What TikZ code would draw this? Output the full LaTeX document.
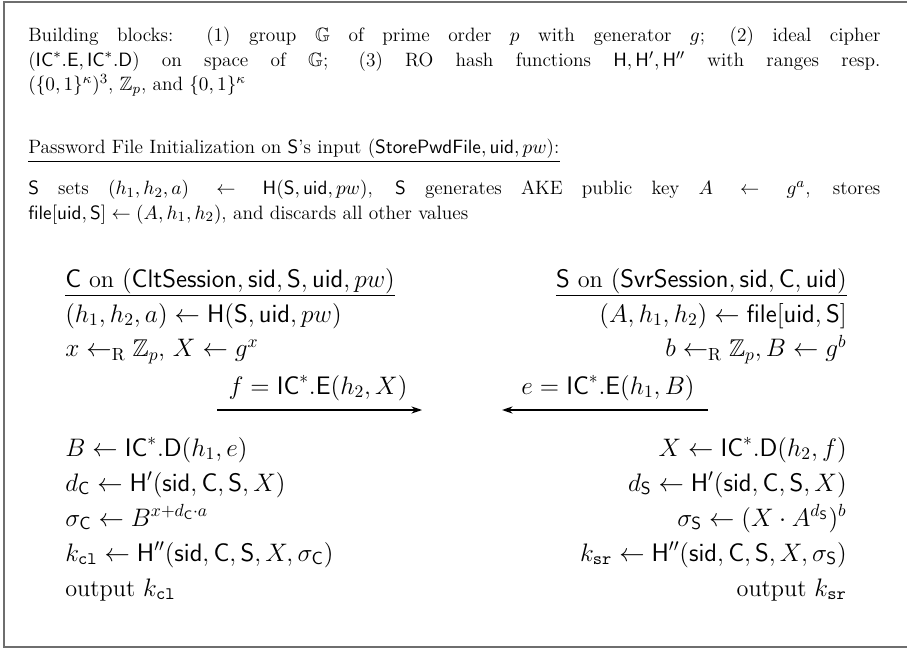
\documentclass[tikz,border=0pt]{standalone}
\usepackage{amsmath,amssymb}
\usetikzlibrary{arrows.meta}
\newcommand{\sfm}[1]{\mathsf{#1}}
\begin{document}
\begin{tikzpicture}[x=0.5692pt,y=-0.5692pt,
  txt/.style={inner sep=0pt,font=\fontsize{11}{13.8}\selectfont},
  ptxt/.style={inner sep=0pt,font=\fontsize{13.8}{16}\selectfont},
  para/.style={txt,text width=485pt,align=justify,anchor=north west},
  lft/.style={ptxt,anchor=base west},
  rgt/.style={ptxt,anchor=base east},
  msg/.style={ptxt,anchor=base},
  frame/.style={draw={rgb,255:red,110;green,110;blue,110},line width=1.3pt},
  uline/.style={line width=0.6pt},
  arr/.style={line width=0.7pt,-{Stealth[length=6pt,width=4pt]}}]
\useasboundingbox (0,0) rectangle (907,651);
\draw[frame] (914,2) -- (4,2) -- (4,647) -- (914,647);
% building blocks
\node[para] (bb) at (28,27) {Building blocks: (1) group $\mathbb{G}$ of prime order $p$ with generator $g$; (2) ideal cipher\linebreak ($\sfm{IC}^*.\sfm{E},\sfm{IC}^*.\sfm{D}$) on space of $\mathbb{G}$; (3) RO hash functions $\sfm{H},\sfm{H}',\sfm{H}''$ with ranges resp.\linebreak $(\{0,1\}^\kappa)^3$, $\mathbb{Z}_p$, and $\{0,1\}^\kappa$\hfill\null};
% password file
\node[txt,anchor=base west] (pf) at (28,154) {Password File Initialization on $\sfm{S}$'s input ($\sfm{StorePwdFile},\sfm{uid},pw$):};
\draw[uline] ([yshift=-4.5pt]pf.base west) -- ([yshift=-4.5pt]pf.base east);
\node[para] (init) at (28,180) {$\sfm{S}$ sets $(h_1,h_2,a)\leftarrow\sfm{H}(\sfm{S},\sfm{uid},pw)$, $\sfm{S}$ generates AKE public key $A\leftarrow g^a$, stores\linebreak $\sfm{file}[\sfm{uid},\sfm{S}]\leftarrow(A,h_1,h_2)$, and discards all other values\hfill\null};
% client column
\node[lft] (ch) at (65,288) {$\sfm{C}$ on $(\sfm{CltSession},\sfm{sid},\sfm{S},\sfm{uid},pw)$};
\draw[uline] ([yshift=-4.5pt]ch.base west) -- ([yshift=-4.5pt]ch.base east);
\node[lft] (c1) at (65,322) {$(h_1,h_2,a)\leftarrow\sfm{H}(\sfm{S},\sfm{uid},pw)$};
\node[lft] (c2) at (65,357) {$x\leftarrow_{\mathrm{R}}\mathbb{Z}_p$, $X\leftarrow g^x$};
\node[lft] (c3) at (65,456) {$B\leftarrow\sfm{IC}^*.\sfm{D}(h_1,e)$};
\node[lft] (c4) at (65,491) {$d_{\sfm{C}}\leftarrow\sfm{H}'(\sfm{sid},\sfm{C},\sfm{S},X)$};
\node[lft] (c5) at (65,526) {$\sigma_{\sfm{C}}\leftarrow B^{x+d_{\sfm{C}}\cdot a}$};
\node[lft] (c6) at (65,561) {$k_{\mathtt{cl}}\leftarrow\sfm{H}''(\sfm{sid},\sfm{C},\sfm{S},X,\sigma_{\sfm{C}})$};
\node[lft] (c7) at (65,596) {output $k_{\mathtt{cl}}$};
% server column
\node[rgt] (sh) at (847,288) {$\sfm{S}$ on $(\sfm{SvrSession},\sfm{sid},\sfm{C},\sfm{uid})$};
\draw[uline] ([yshift=-4.5pt]sh.base west) -- ([yshift=-4.5pt]sh.base east);
\node[rgt] (s1) at (847,322) {$(A,h_1,h_2)\leftarrow\sfm{file}[\sfm{uid},\sfm{S}]$};
\node[rgt] (s2) at (847,357) {$b\leftarrow_{\mathrm{R}}\mathbb{Z}_p, B\leftarrow g^b$};
\node[rgt] (s3) at (847,456) {$X\leftarrow\sfm{IC}^*.\sfm{D}(h_2,f)$};
\node[rgt] (s4) at (847,491) {$d_{\sfm{S}}\leftarrow\sfm{H}'(\sfm{sid},\sfm{C},\sfm{S},X)$};
\node[rgt] (s5) at (847,526) {$\sigma_{\sfm{S}}\leftarrow(X\cdot A^{d_{\sfm{S}}})^b$};
\node[rgt] (s6) at (847,561) {$k_{\mathtt{sr}}\leftarrow\sfm{H}''(\sfm{sid},\sfm{C},\sfm{S},X,\sigma_{\sfm{S}})$};
\node[rgt] (s7) at (847,596) {output $k_{\mathtt{sr}}$};
% messages
\coordinate (fa) at (217,410);
\coordinate (fb) at (422,410);
\coordinate (ea) at (708,410);
\coordinate (eb) at (502,410);
\node[msg] (fm) at (318,394) {$f=\sfm{IC}^*.\sfm{E}(h_2,X)$};
\node[msg] (em) at (608,394) {$e=\sfm{IC}^*.\sfm{E}(h_1,B)$};
\draw[arr] (fa) -- (fb);
\draw[arr] (ea) -- (eb);
\end{tikzpicture}
\end{document}
